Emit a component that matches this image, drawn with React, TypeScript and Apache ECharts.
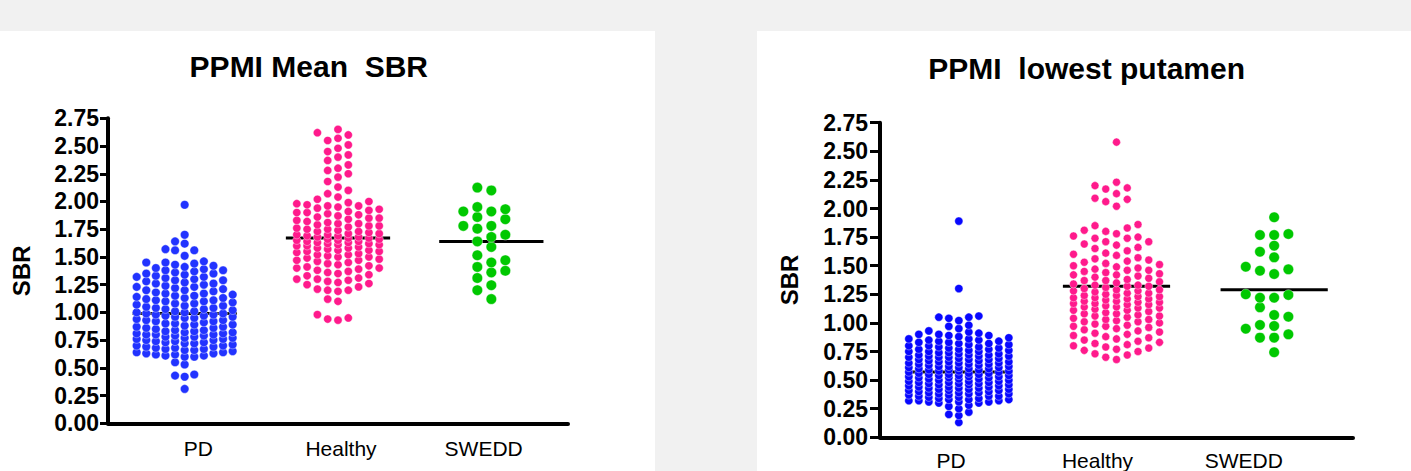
import React, { useEffect, useRef } from "react";
import * as echarts from "echarts";

// ---------------- data ----------------
const categories = ["PD", "Healthy", "SWEDD"];
const leftTitle = "PPMI Mean  SBR";
const rightTitle = "PPMI  lowest putamen";
const yAxisName = "SBR";
const yMin = 0;
const yMax = 2.75;
const yStep = 0.25;

// Panel 1: PPMI mean SBR
const pdMeanSBR = [
  1.97, 1.70, 1.64, 1.62, 1.57, 1.56, 1.56, 1.51,
  1.46, 1.45, 1.45, 1.44, 1.43, 1.42, 1.41, 1.40,
  1.39, 1.38, 1.38, 1.37, 1.36, 1.35, 1.35, 1.34,
  1.33, 1.32, 1.32, 1.31, 1.30, 1.29, 1.29, 1.28,
  1.27, 1.26, 1.26, 1.25, 1.24, 1.23, 1.23, 1.22, 1.21,
  1.20, 1.20, 1.19, 1.18, 1.17, 1.17, 1.16, 1.15, 1.15,
  1.14, 1.13, 1.13, 1.12, 1.11, 1.11, 1.10, 1.10, 1.09, 1.08,
  1.08, 1.07, 1.06, 1.06, 1.05, 1.04, 1.04, 1.03, 1.03, 1.02,
  1.01, 1.01, 1.00, 1.00, 0.99, 0.99, 0.98, 0.98, 0.97, 0.97, 0.96,
  0.96, 0.95, 0.95, 0.94, 0.93, 0.93, 0.92, 0.92, 0.91, 0.90, 0.90,
  0.89, 0.89, 0.88, 0.87, 0.87, 0.86, 0.86, 0.85, 0.84, 0.84,
  0.83, 0.83, 0.82, 0.82, 0.81, 0.81, 0.80, 0.80, 0.80, 0.79, 0.79,
  0.78, 0.78, 0.77, 0.77, 0.76, 0.76, 0.75, 0.75, 0.74, 0.74,
  0.73, 0.73, 0.72, 0.72, 0.71, 0.70, 0.70, 0.69, 0.69, 0.68,
  0.68, 0.67, 0.67, 0.66, 0.66, 0.65, 0.64, 0.64, 0.63, 0.63,
  0.62, 0.62, 0.61, 0.61, 0.60, 0.60,
  0.55, 0.53, 0.44, 0.43, 0.42, 0.31,
];
const hcMeanSBR = [
  2.65, 2.62, 2.60, 2.57, 2.55, 2.51, 2.48, 2.45, 2.42, 2.40, 2.37,
  2.33, 2.30, 2.28, 2.25, 2.22, 2.18, 2.13, 2.10, 2.07, 2.04, 2.02,
  2.00, 1.99, 1.98, 1.97, 1.96, 1.96, 1.95,
  1.94, 1.93, 1.92, 1.91, 1.90, 1.90,
  1.89, 1.88, 1.87, 1.86, 1.85, 1.85,
  1.84, 1.83, 1.82, 1.81, 1.80, 1.80,
  1.79, 1.78, 1.78, 1.77, 1.76, 1.75, 1.75,
  1.74, 1.73, 1.73, 1.72, 1.71, 1.71, 1.70, 1.70,
  1.69, 1.69, 1.68, 1.68, 1.67, 1.67, 1.66, 1.66, 1.65, 1.65,
  1.64, 1.64, 1.63, 1.63, 1.62, 1.62, 1.61, 1.61, 1.60, 1.60,
  1.59, 1.58, 1.58, 1.57, 1.56, 1.56, 1.55, 1.55,
  1.54, 1.53, 1.52, 1.52, 1.51, 1.50, 1.50,
  1.49, 1.48, 1.47, 1.47, 1.46, 1.45,
  1.44, 1.43, 1.42, 1.41, 1.40, 1.40,
  1.39, 1.38, 1.37, 1.36, 1.35,
  1.34, 1.33, 1.31, 1.30, 1.30,
  1.29, 1.28, 1.27, 1.26, 1.25,
  1.23, 1.21, 1.20, 1.20, 1.19, 1.12, 1.10, 0.98, 0.95, 0.94, 0.93,
];
const swMeanSBR = [
  2.10, 2.125, 1.95, 1.86, 1.91, 1.91, 1.93, 1.84, 1.78, 1.755, 1.78, 1.70,
  1.68, 1.64, 1.59, 1.515, 1.45, 1.47, 1.41, 1.36, 1.375, 1.31, 1.245, 1.20, 1.12,
];
const meanSBRGroupMeans = [0.99, 1.67, 1.64];

// Panel 2: PPMI lowest putamen
const pdLowestPutamen = [
  1.89, 1.30, 1.06, 1.05, 1.05, 1.04, 1.02, 0.98, 0.97, 0.95, 0.93,
  0.92, 0.91, 0.90, 0.90, 0.89, 0.89, 0.88, 0.87, 0.86, 0.86,
  0.85, 0.85, 0.84, 0.84, 0.83, 0.83, 0.82, 0.82, 0.81, 0.81, 0.80, 0.80,
  0.79, 0.79, 0.78, 0.78, 0.77, 0.77, 0.77, 0.76, 0.76, 0.75, 0.75, 0.75,
  0.74, 0.74, 0.73, 0.73, 0.72, 0.72, 0.72, 0.71, 0.71, 0.71, 0.70, 0.70, 0.70,
  0.69, 0.69, 0.68, 0.68, 0.68, 0.67, 0.67, 0.66, 0.66, 0.66, 0.65, 0.65, 0.65,
  0.64, 0.64, 0.64, 0.63, 0.63, 0.62, 0.62, 0.62, 0.61, 0.61, 0.61, 0.60, 0.60, 0.60,
  0.59, 0.59, 0.59, 0.58, 0.58, 0.58, 0.57, 0.57, 0.56, 0.56, 0.56, 0.55, 0.55, 0.55,
  0.54, 0.54, 0.54, 0.53, 0.53, 0.53, 0.52, 0.52, 0.52, 0.51, 0.51, 0.51, 0.50, 0.50,
  0.49, 0.49, 0.49, 0.48, 0.48, 0.48, 0.47, 0.47, 0.47, 0.46, 0.46, 0.46, 0.45, 0.45,
  0.44, 0.44, 0.44, 0.43, 0.43, 0.43, 0.42, 0.42, 0.42, 0.41, 0.41, 0.41, 0.40, 0.40,
  0.39, 0.39, 0.39, 0.38, 0.38, 0.38, 0.37, 0.37, 0.36, 0.36, 0.36, 0.35, 0.35,
  0.34, 0.34, 0.33, 0.33, 0.33, 0.32, 0.32, 0.32, 0.31, 0.31, 0.31, 0.30, 0.30,
  0.28, 0.27, 0.25, 0.22, 0.20, 0.19, 0.13,
];
const hcLowestPutamen = [
  2.58, 2.23, 2.20, 2.18, 2.17, 2.13, 2.09, 2.08, 2.06, 2.02,
  1.86, 1.85, 1.83, 1.81, 1.80,
  1.78, 1.76, 1.75, 1.74, 1.74, 1.71, 1.71,
  1.69, 1.68, 1.66, 1.65, 1.63, 1.61,
  1.60, 1.59, 1.57, 1.56, 1.55,
  1.54, 1.53, 1.52, 1.51, 1.50,
  1.49, 1.48, 1.47, 1.46, 1.46, 1.45,
  1.44, 1.43, 1.42, 1.42, 1.41, 1.40,
  1.39, 1.38, 1.37, 1.37, 1.36, 1.35,
  1.34, 1.33, 1.33, 1.32, 1.32, 1.31, 1.30,
  1.29, 1.29, 1.28, 1.28, 1.27, 1.26, 1.26, 1.25,
  1.24, 1.24, 1.23, 1.23, 1.22, 1.22, 1.21, 1.21, 1.20,
  1.19, 1.19, 1.18, 1.18, 1.17, 1.17, 1.16, 1.16, 1.15,
  1.14, 1.14, 1.13, 1.13, 1.12, 1.11, 1.11, 1.10,
  1.09, 1.08, 1.08, 1.07, 1.06, 1.06, 1.05,
  1.04, 1.03, 1.03, 1.02, 1.01, 1.01, 1.00,
  0.99, 0.98, 0.97, 0.97, 0.96, 0.95,
  0.94, 0.93, 0.92, 0.91, 0.90,
  0.89, 0.88, 0.87, 0.86, 0.85,
  0.84, 0.83, 0.82, 0.81, 0.80,
  0.79, 0.78, 0.77, 0.76,
  0.75, 0.73, 0.72, 0.70, 0.68,
];
const swLowestPutamen = [
  1.923, 1.777, 1.768, 1.768, 1.675, 1.622, 1.573, 1.468, 1.427, 1.456, 1.491,
  1.25, 1.22, 1.22, 1.244, 1.136, 1.054, 1.069, 0.982, 0.949, 0.973, 0.871,
  0.871, 0.90, 0.743,
];
const putamenGroupMeans = [0.57, 1.32, 1.29];

// ---------------- layout / style ----------------
const FONT = '"Liberation Sans", Arial, Helvetica, sans-serif';
const BLUE_L = "#2233ff";
const BLUE_R = "#0808ff";
const PINK = "#ff1a8c";
const GREEN = "#00c800";

type Grp = { values: number[]; color: string; size: number; col: number; sep: number; maxK: number };
type Panel = {
  plot: { left: number; top: number; width: number; height: number };
  labels: { left: number; width: number };
  title: { text: string; x: number; y: number };
  panelRect: { x: number; y: number; width: number; height: number };
  nameGap: number;
  labelMargin: number;
  tickLen: number;
  means: number[];
  groups: Grp[];
};

const panels: Panel[] = [
  {
    plot: { left: 108, top: 118.3, width: 460, height: 305 },
    labels: { left: 127, width: 428 },
    title: { text: leftTitle, x: 308.8, y: 51.5 },
    panelRect: { x: 0, y: 31, width: 655, height: 440 },
    nameGap: 75,
    labelMargin: 9,
    tickLen: 8,
    means: meanSBRGroupMeans,
    groups: [
      { values: pdMeanSBR, color: BLUE_L, size: 8.6, col: 9.6, sep: 7, maxK: 5 },
      { values: hcMeanSBR, color: PINK, size: 8.2, col: 10.3, sep: 8, maxK: 4 },
      { values: swMeanSBR, color: GREEN, size: 10.5, col: 14, sep: 9.5, maxK: 3 },
    ],
  },
  {
    plot: { left: 880, top: 122.7, width: 473, height: 314.6 },
    labels: { left: 878, width: 439 },
    title: { text: rightTitle, x: 1086.7, y: 53.3 },
    panelRect: { x: 757, y: 31, width: 654, height: 440 },
    nameGap: 79,
    labelMargin: 12,
    tickLen: 10,
    means: putamenGroupMeans,
    groups: [
      { values: pdLowestPutamen, color: BLUE_R, size: 8.2, col: 10, sep: 6, maxK: 5 },
      { values: hcLowestPutamen, color: PINK, size: 8, col: 10.75, sep: 10, maxK: 4 },
      { values: swLowestPutamen, color: GREEN, size: 10.5, col: 14.2, sep: 9.5, maxK: 3 },
    ],
  },
];

// column-based beeswarm layout (offsets computed from values and pixel scales)
function swarm(
  values: number[],
  center: number,
  colPx: number,
  sepPx: number,
  maxK: number,
  pxY: number,
  pxX: number
): number[][] {
  const sorted = values.slice().sort((a, b) => a - b);
  const order: number[] = [0];
  for (let k = 1; k <= maxK; k++) order.push(-k, k);
  const last: Record<number, number> = {};
  const out: number[][] = [];
  for (const v of sorted) {
    const y = v * pxY;
    let chosen: number | null = null;
    for (const k of order) {
      const l = last[k];
      if (l === undefined || y - l >= sepPx) {
        chosen = k;
        break;
      }
    }
    if (chosen === null) {
      let best = -Infinity;
      for (const k of order) {
        const g = y - last[k];
        if (g > best + 1e-6) {
          best = g;
          chosen = k;
        }
      }
    }
    last[chosen as number] = y;
    out.push([center + ((chosen as number) * colPx) / pxX, v]);
  }
  return out;
}

function buildOption() {
  const grid: any[] = [];
  const xAxis: any[] = [];
  const yAxis: any[] = [];
  const series: any[] = [];
  const title: any[] = [];
  const graphic: any[] = [];

  panels.forEach((p, pi) => {
    const gPlot = pi * 2;
    const gLab = pi * 2 + 1;
    grid.push({ left: p.plot.left, top: p.plot.top, width: p.plot.width, height: p.plot.height });
    grid.push({ left: p.labels.left, top: p.plot.top, width: p.labels.width, height: p.plot.height });

    graphic.push({
      type: "rect",
      z: -100,
      silent: true,
      shape: { ...p.panelRect },
      style: { fill: "#ffffff" },
    });

    title.push({
      text: p.title.text,
      left: p.title.x,
      top: p.title.y,
      textAlign: "center",
      padding: 0,
      textStyle: { fontSize: 30, fontWeight: "bold", color: "#000", fontFamily: FONT, lineHeight: 30 },
    });

    xAxis.push({
      type: "value",
      gridIndex: gPlot,
      min: -0.5,
      max: 2.5,
      axisLine: { show: true, onZero: false, lineStyle: { color: "#000", width: 4 } },
      axisTick: { show: false },
      axisLabel: { show: false },
      splitLine: { show: false },
    });
    xAxis.push({
      type: "category",
      gridIndex: gLab,
      data: categories,
      axisLine: { show: false },
      axisTick: { show: false },
      axisLabel: { color: "#000", fontSize: 21, fontFamily: FONT, margin: 14.5 },
      splitLine: { show: false },
    });

    yAxis.push({
      type: "value",
      gridIndex: gPlot,
      min: yMin,
      max: yMax,
      interval: yStep,
      name: yAxisName,
      nameLocation: "middle",
      nameGap: p.nameGap,
      nameTextStyle: { fontSize: 24, fontWeight: "bold", color: "#000", fontFamily: FONT },
      axisLine: { show: true, onZero: false, lineStyle: { color: "#000", width: 4 } },
      axisTick: { show: true, length: p.tickLen, lineStyle: { color: "#000", width: 3 } },
      axisLabel: {
        color: "#000",
        fontSize: 23,
        fontWeight: "bold",
        fontFamily: FONT,
        margin: p.labelMargin,
        formatter: (v: number) => v.toFixed(2),
      },
      splitLine: { show: false },
    });
    yAxis.push({ type: "value", gridIndex: gLab, show: false, min: yMin, max: yMax });

    const pxY = p.plot.height / (yMax - yMin);
    const pxX = p.plot.width / categories.length;

    p.groups.forEach((g, gi) => {
      series.push({
        type: "line",
        name: categories[gi] + " mean",
        xAxisIndex: gPlot,
        yAxisIndex: gPlot,
        data: [
          [gi - 0.34, p.means[gi]],
          [gi + 0.34, p.means[gi]],
        ],
        symbol: "none",
        lineStyle: { color: "#000", width: 3 },
        z: 2,
        silent: true,
      });
      series.push({
        type: "scatter",
        name: categories[gi],
        xAxisIndex: gPlot,
        yAxisIndex: gPlot,
        data: swarm(g.values, gi, g.col, g.sep, g.maxK, pxY, pxX),
        symbol: "circle",
        symbolSize: g.size,
        itemStyle: { color: g.color, borderColor: "#ffffff", borderWidth: 0.4, opacity: 1 },
        z: 3,
        silent: true,
      });
    });
  });

  return {
    animation: false,
    backgroundColor: "#f1f1f1",
    graphic,
    title,
    grid,
    xAxis,
    yAxis,
    series,
  };
}

export default function App() {
  const ref = useRef<HTMLDivElement>(null);
  useEffect(() => {
    if (!ref.current) return;
    const chart = echarts.init(ref.current, undefined, { renderer: "svg" });
    chart.setOption(buildOption() as any);
    return () => chart.dispose();
  }, []);
  return (
    <div
      ref={ref}
      style={{ position: "absolute", left: 0, top: 0, width: 1411, height: 471 }}
    />
  );
}
